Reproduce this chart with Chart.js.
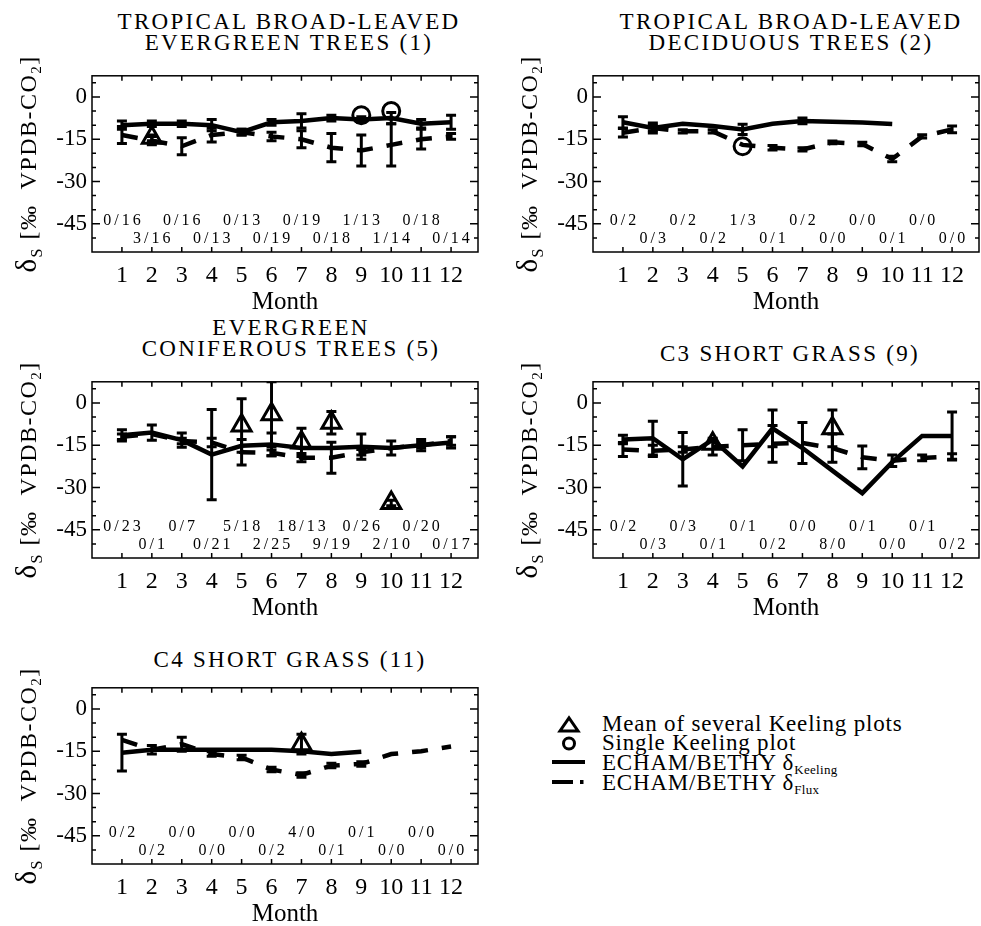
<!DOCTYPE html>
<html>
<head>
<meta charset="utf-8">
<script src="https://cdn.jsdelivr.net/npm/chart.js@4.4.0/dist/chart.umd.min.js"></script>
<style>
  html, body { margin: 0; padding: 0; background: #fff; width: 981px; height: 926px; overflow: hidden; }
  .panel { position: absolute; width: 492px; height: 260px; }
  .ttl { position: absolute; font-family: "Liberation Serif", serif; font-size: 23px; line-height: 21px;
         letter-spacing: 2.3px; text-align: center; white-space: nowrap; transform: translateX(-50%); color: #000; }
  .leg { position: absolute; left: 602px; font-family: "Liberation Serif", serif; font-size: 23px;
         line-height: 20px; letter-spacing: 0.8px; white-space: nowrap; color: #000; }
  .leg span { font-size: 13px; position: relative; top: 4px; letter-spacing: 0.3px; }
</style>
</head>
<body>

<div class="ttl" style="left:289px;top:11px">TROPICAL BROAD-LEAVED<br>EVERGREEN TREES (1)</div>
<div class="ttl" style="left:791px;top:11px">TROPICAL BROAD-LEAVED<br>DECIDUOUS TREES (2)</div>
<div class="ttl" style="left:291px;top:317px">EVERGREEN<br>CONIFEROUS TREES (5)</div>
<div class="ttl" style="left:790px;top:343px">C3 SHORT GRASS (9)</div>
<div class="ttl" style="left:290px;top:649px">C4 SHORT GRASS (11)</div>

<svg width="80" height="100" style="position:absolute;left:535px;top:705px">
  <polygon points="25,26 43,26 34,13" fill="none" stroke="#000" stroke-width="3" stroke-linejoin="miter"/>
  <circle cx="34" cy="38.5" r="5.5" fill="none" stroke="#000" stroke-width="3"/>
  <line x1="17" y1="57" x2="50" y2="57" stroke="#000" stroke-width="4"/>
  <line x1="17" y1="77" x2="38" y2="77" stroke="#000" stroke-width="4"/>
  <line x1="45" y1="77" x2="48.5" y2="77" stroke="#000" stroke-width="4"/>
</svg>
<div class="leg" style="top:714px">Mean of several Keeling plots</div>
<div class="leg" style="top:733px">Single Keeling plot</div>
<div class="leg" style="top:753px">ECHAM/BETHY δ<span>Keeling</span></div>
<div class="leg" style="top:773px">ECHAM/BETHY δ<span>Flux</span></div>

<script>
// AXES
const months = [1, 2, 3, 4, 5, 6, 7, 8, 9, 10, 11, 12];
const yTicks = [0, -15, -30, -45];

// TROPICAL BROAD-LEAVED EVERGREEN (1)
const tbeKeeling    = [-10, -9.5, -9.5, -10, -12.5, -9, -8.5, -7.5, -8, -7.5, -9.5, -9];
const tbeKeelingErr = [1.5, 1, 1, 2, 1, 1, 2.5, 1, 1, 2, 1.5, 2.5];
const tbeFlux       = [-13.5, -15.5, -17.5, -13.5, -12.5, -14, -15, -18, -19, -17, -15, -14];
const tbeFluxErr    = [3, 1.5, 3, 2.5, 1, 1.5, 3, 5, 5.5, 7.5, 3.5, 1];
const tbeMean       = [null, -14.5, null, null, null, null, null, null, null, null, null, null];
const tbeMeanErr    = [null, 1, null, null, null, null, null, null, null, null, null, null];
const tbeSingle     = [null, null, null, null, null, null, null, null, -6.5, -5, null, null];
const tbeCounts     = ['0/16', '3/16', '0/16', '0/13', '0/13', '0/19', '0/19', '0/18', '1/13', '1/14', '0/18', '0/14'];

// TROPICAL BROAD-LEAVED DECIDUOUS (2)
const tbdKeeling    = [-9, -11, -9.5, -10.3, -11.5, -9.5, -8.5, -8.8, -9.1, -9.6, null, null];
const tbdKeelingErr = [2, 1.8, null, null, 1.8, null, 1, null, null, null, null, null];
const tbdFlux       = [-12.7, -11, -12.2, -12.2, -17, -18, -18.6, -16.1, -16.7, -22, -14, -11.5];
const tbdFluxErr    = [1.5, 1, 0.6, 0.6, null, 0.8, 0.6, 0.5, 0.6, 1, 0.6, 1.2];
const tbdMean       = [null, null, null, null, null, null, null, null, null, null, null, null];
const tbdMeanErr    = [null, null, null, null, null, null, null, null, null, null, null, null];
const tbdSingle     = [null, null, null, null, -17.5, null, null, null, null, null, null, null];
const tbdCounts     = ['0/2', '0/3', '0/2', '0/2', '1/3', '0/1', '0/2', '0/0', '0/0', '0/1', '0/0', '0/0'];

// EVERGREEN CONIFEROUS (5)
const ecKeeling     = [-11.5, -10.5, -13.2, -18.3, -15.2, -14.7, -16, -16, -15.5, -16, -15, -14];
const ecKeelingErr  = [2, 2.7, 2.5, 16, null, 4, null, null, 4.5, 2.5, 2, 2];
const ecFlux        = [-12, -11, -13.5, -14, -17.5, -17.7, -19.4, -19.4, -17.5, -16, -15, -13.5];
const ecFluxErr     = [1, null, 1, 1.5, 4.5, 1, 1.5, 5.5, 1, null, 1, 1.5];
const ecMean        = [null, null, null, null, -8, -4, -14, -7, null, -35.5, null, null];
const ecMeanErr     = [null, null, null, null, 9.5, 11.5, 5, 4, null, 1, null, null];
const ecSingle      = [null, null, null, null, null, null, null, null, null, null, null, null];
const ecCounts      = ['0/23', '0/1', '0/7', '0/21', '5/18', '2/25', '18/13', '9/19', '0/26', '2/10', '0/20', '0/17'];

// C3 SHORT GRASS (9)
const c3Keeling     = [-13, -12.5, -20, -13, -22.5, -9, -16, -24, -32, -21, -11.7, -11.7];
const c3KeelingErr  = [1.5, 6, 9.5, null, null, 6.5, null, null, null, null, null, 8.5];
const c3Flux        = [-16.5, -17, -16.5, -15.5, -15, -14.5, -14.2, -16, -19.3, -20.5, -19.5, -19];
const c3FluxErr     = [2.5, 2, 1, 3, 5.5, 6.5, 7.3, 5, 4, 2, 1, 1];
const c3Mean        = [null, null, null, -14.5, null, null, null, -9, null, null, null, null];
const c3MeanErr     = [null, null, null, null, null, null, null, 6.5, null, null, null, null];
const c3Single      = [null, null, null, null, null, null, null, null, null, null, null, null];
const c3Counts      = ['0/2', '0/3', '0/3', '0/1', '0/1', '0/2', '0/0', '8/0', '0/1', '0/0', '0/1', '0/2'];

// C4 SHORT GRASS (11)
const c4Keeling     = [-15.5, -14.5, -14.5, -14.5, -14.5, -14.5, -15, -16, -15.2, null, null, null];
const c4KeelingErr  = [6.5, null, null, null, null, null, null, null, null, null, null, null];
const c4Flux        = [-11, -14.5, -12.5, -16, -17.2, -21.5, -23.4, -20.1, -19.5, -16, -15, -13.3];
const c4FluxErr     = [null, 1.5, 2.5, 0.8, 0.8, 0.8, 0.8, 0.8, 0.8, null, null, null];
const c4Mean        = [null, null, null, null, null, null, -12.5, null, null, null, null, null];
const c4MeanErr     = [null, null, null, null, null, null, 3.5, null, null, null, null, null];
const c4Single      = [null, null, null, null, null, null, null, null, null, null, null, null];
const c4Counts      = ['0/2', '0/2', '0/0', '0/0', '0/0', '0/2', '4/0', '0/1', '0/1', '0/0', '0/0', '0/0'];

const FONT = '"Liberation Serif", "Times New Roman", serif';
const Y_MIN = -55, Y_MAX = 7.5, X_MIN = 0, X_MAX = 12.9;

const panels = [
  { left: 92,  top: 67,  keeling: tbeKeeling, keelingErr: tbeKeelingErr, flux: tbeFlux, fluxErr: tbeFluxErr, mean: tbeMean, meanErr: tbeMeanErr, single: tbeSingle, counts: tbeCounts },
  { left: 593, top: 67,  keeling: tbdKeeling, keelingErr: tbdKeelingErr, flux: tbdFlux, fluxErr: tbdFluxErr, mean: tbdMean, meanErr: tbdMeanErr, single: tbdSingle, counts: tbdCounts },
  { left: 92,  top: 373, keeling: ecKeeling,  keelingErr: ecKeelingErr,  flux: ecFlux,  fluxErr: ecFluxErr,  mean: ecMean,  meanErr: ecMeanErr,  single: ecSingle,  counts: ecCounts },
  { left: 593, top: 373, keeling: c3Keeling,  keelingErr: c3KeelingErr,  flux: c3Flux,  fluxErr: c3FluxErr,  mean: c3Mean,  meanErr: c3MeanErr,  single: c3Single,  counts: c3Counts },
  { left: 92,  top: 679, keeling: c4Keeling,  keelingErr: c4KeelingErr,  flux: c4Flux,  fluxErr: c4FluxErr,  mean: c4Mean,  meanErr: c4MeanErr,  single: c4Single,  counts: c4Counts }
];

function toXY(arr) {
  return months.map((m, i) => ({ x: m, y: arr[i] }));
}

// box, tick marks and y title
const framePlugin = {
  id: 'frame',
  beforeDatasetsDraw(chart) {
    const { ctx, chartArea: a, scales: { x, y } } = chart;
    ctx.save();
    ctx.strokeStyle = '#000';
    ctx.lineWidth = 1.5;
    ctx.strokeRect(a.left, a.top, a.right - a.left, a.bottom - a.top);
    ctx.beginPath();
    months.forEach(m => {
      const px = x.getPixelForValue(m);
      ctx.moveTo(px, a.top); ctx.lineTo(px, a.top + 5);
      ctx.moveTo(px, a.bottom); ctx.lineTo(px, a.bottom - 5);
    });
    for (let v = -50; v <= 5; v += 5) {
      const py = y.getPixelForValue(v);
      const len = yTicks.includes(v) ? 8 : 4;
      ctx.moveTo(a.left, py); ctx.lineTo(a.left + len, py);
      ctx.moveTo(a.right, py); ctx.lineTo(a.right - len, py);
    }
    ctx.stroke();

    // y axis title: δS [‰ VPDB-CO2]
    const parts = [
      ['δ', 29, 0], ['S', 16, 6], [' [‰  VPDB-CO', 24, 0], ['2', 15, 5], [']', 24, 0]
    ];
    ctx.translate(a.left - 56, (a.top + a.bottom) / 2);
    ctx.rotate(-Math.PI / 2);
    ctx.fillStyle = '#000';
    ctx.textBaseline = 'alphabetic';
    ctx.textAlign = 'left';
    ctx.letterSpacing = '1.5px';
    let total = 0;
    parts.forEach(p => { ctx.font = p[1] + 'px ' + FONT; total += ctx.measureText(p[0]).width; });
    let cx = -total / 2;
    parts.forEach(p => {
      ctx.font = p[1] + 'px ' + FONT;
      ctx.fillText(p[0], cx, p[2]);
      cx += ctx.measureText(p[0]).width;
    });
    ctx.restore();
  }
};

// vertical error bars with caps
const errorBarPlugin = {
  id: 'errorBars',
  afterDatasetsDraw(chart) {
    const { ctx, chartArea: a, scales: { y } } = chart;
    ctx.save();
    ctx.beginPath();
    ctx.rect(a.left, a.top, a.right - a.left, a.bottom - a.top);
    ctx.clip();
    ctx.strokeStyle = '#000';
    ctx.lineWidth = 3;
    chart.data.datasets.forEach((ds, di) => {
      if (!ds.errors) return;
      const meta = chart.getDatasetMeta(di);
      ds.errors.forEach((e, i) => {
        const pt = ds.data[i];
        if (e == null || pt.y == null) return;
        const px = meta.data[i].x;
        const top = y.getPixelForValue(pt.y + e);
        const bot = y.getPixelForValue(pt.y - e);
        ctx.beginPath();
        ctx.moveTo(px, top); ctx.lineTo(px, bot);
        ctx.moveTo(px - 5, top); ctx.lineTo(px + 5, top);
        ctx.moveTo(px - 5, bot); ctx.lineTo(px + 5, bot);
        ctx.stroke();
      });
    });
    ctx.restore();
  }
};

function countsPlugin(labels) {
  return {
    id: 'counts',
    afterDraw(chart) {
      const { ctx, scales: { x, y } } = chart;
      ctx.save();
      ctx.font = '16px ' + FONT;
      ctx.letterSpacing = '3px';
      ctx.fillStyle = '#000';
      ctx.textAlign = 'center';
      ctx.textBaseline = 'alphabetic';
      labels.forEach((t, i) => {
        const px = x.getPixelForValue(months[i]) + 1.5;
        const py = y.getPixelForValue(i % 2 === 0 ? -45.6 : -51.9);
        ctx.fillText(t, px, py);
      });
      ctx.restore();
    }
  };
}

panels.forEach(p => {
  const wrap = document.createElement('div');
  wrap.className = 'panel';
  wrap.style.left = (p.left - 92) + 'px';
  wrap.style.top = (p.top - 10) + 'px';
  const cv = document.createElement('canvas');
  cv.width = 492; cv.height = 260;
  wrap.appendChild(cv);
  document.body.appendChild(wrap);

  new Chart(cv, {
    type: 'line',
    data: {
      datasets: [
        { label: 'Keeling', data: toXY(p.keeling), errors: p.keelingErr, borderColor: '#000', borderWidth: 4.5, pointRadius: 0, fill: false },
        { label: 'Flux', data: toXY(p.flux), errors: p.fluxErr, borderColor: '#000', borderWidth: 4.5, borderDash: [16, 14], pointRadius: 0, fill: false },
        { label: 'Mean', data: toXY(p.mean), errors: p.meanErr, showLine: false, pointStyle: 'triangle', pointRadius: 11, pointBorderWidth: 3, pointBorderColor: '#000', pointBackgroundColor: 'rgba(0,0,0,0)' },
        { label: 'Single', data: toXY(p.single), showLine: false, pointStyle: 'circle', pointRadius: 8.5, pointBorderWidth: 3, pointBorderColor: '#000', pointBackgroundColor: 'rgba(0,0,0,0)' }
      ]
    },
    options: {
      responsive: false,
      animation: false,
      events: [],
      layout: { padding: { top: 10, right: 10, left: 0, bottom: 0 } },
      plugins: { legend: { display: false }, tooltip: { enabled: false }, title: { display: false } },
      scales: {
        x: {
          type: 'linear', min: X_MIN, max: X_MAX,
          grid: { display: false, drawTicks: false }, border: { display: false },
          afterBuildTicks: s => { s.ticks = months.map(v => ({ value: v })); },
          afterFit: s => { s.height = 65; },
          ticks: { color: '#000', font: { family: FONT, size: 24 }, padding: 9, autoSkip: false, maxRotation: 0, callback: v => String(v) },
          title: { display: true, text: 'Month', color: '#000', font: { family: FONT, size: 25 }, padding: { top: 0, bottom: 0 } }
        },
        y: {
          type: 'linear', min: Y_MIN, max: Y_MAX,
          grid: { display: false, drawTicks: false }, border: { display: false },
          afterBuildTicks: s => { s.ticks = yTicks.map(v => ({ value: v })); },
          afterFit: s => { s.width = 92; },
          ticks: { color: '#000', font: { family: FONT, size: 23 }, padding: 5, callback: v => String(v) }
        }
      }
    },
    plugins: [framePlugin, errorBarPlugin, countsPlugin(p.counts)]
  });
});
</script>
</body>
</html>
